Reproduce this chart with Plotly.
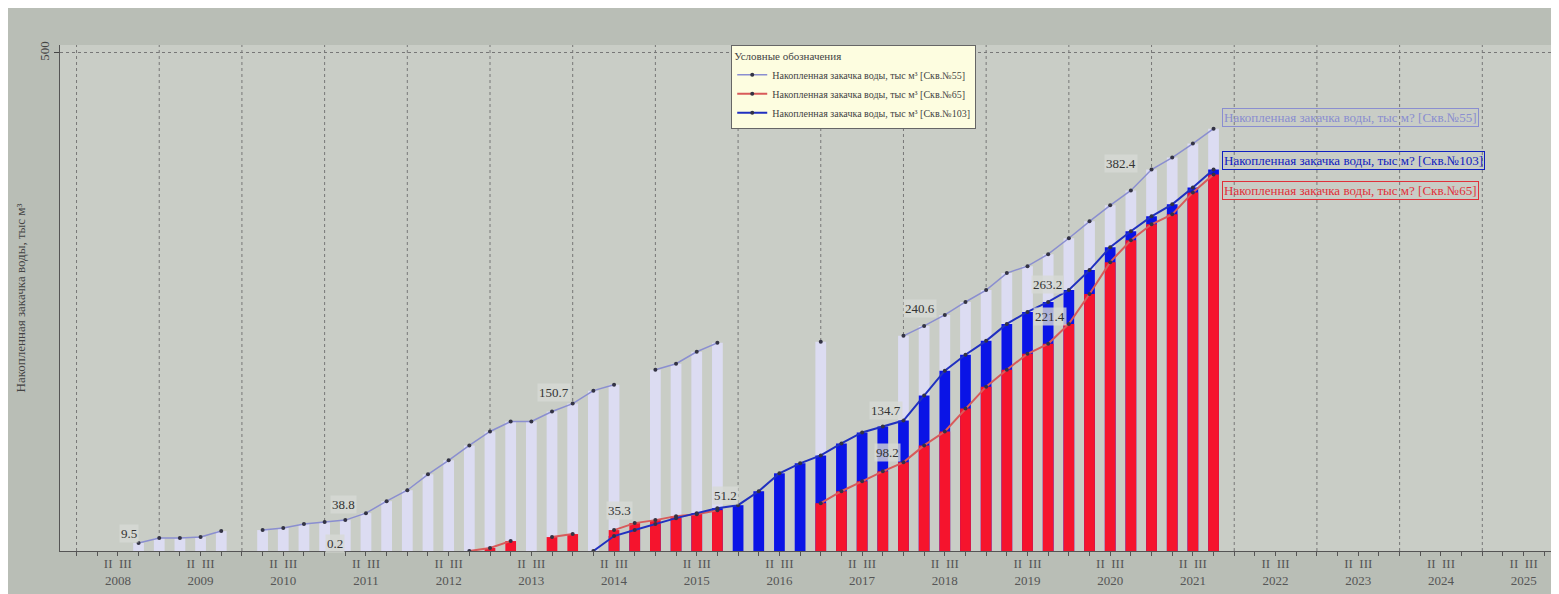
import plotly.graph_objects as go

# quarterly points, x = year + quarter/4, starting 2008 Q1
start_year = 2008
n_quarters = 56

# cumulative injection, well 55 (None = no data)
well55 = [None, None, None, 8, 13, 13, 14, 20, None, 21, 23, 27, 29, 31, 38, 50,
          61, 77, 91, 106, 120, 130, 130, 140, 148, 161, 167, None, 182, 188, 200, 209,
          None, None, None, None, 210, None, None, None, 216, 226, 237, 250, 262, 279, 286, 298,
          314, 331, 347, 362, 383, 395, 409, 424]
# well 103
well103 = [None] * 25 + [0, 15, 21, 27, 33, 38, 43,
           46, 60, 78, 88, 96, 108, 119, 125, 131, 156, 181, 197, 211, 228, 240, 250,
           262, 282, 305, 321, 336, 348, 365, 383]
# well 65
well65 = [None] * 19 + [0, 3, 10, None, 14, 17, None, 21, 28, 31, 35, 37, 41,
          None, None, None, None, 48, 60, 70, 80, 89, 106, 120, 143, 165, 182, 198, 208,
          228, 258, 290, 312, 328, 338, 360, 378]

x = [start_year + i / 4 for i in range(n_quarters)]
years = list(range(2008, 2026))

# point labels: (series, quarter index, text, xshift, yshift)
point_labels = [("55", 3, "9.5", -10, 10), ("55", 13, "38.8", -2, 16), ("55", 13, "0.2", -10, -23),
                ("55", 24, "150.7", -19, 11), ("65", 26, "35.3", 5, 20), ("65", 31, "51.2", 8, 15),
                ("103", 39, "134.7", 3, 16), ("65", 39, "98.2", 5, 19), ("55", 41, "240.6", -4, 17),
                ("103", 46, "263.2", 20, 27), ("103", 46, "221.4", 22, -5), ("55", 51, "382.4", -10, 27)]

series = {"55": well55, "65": well65, "103": well103}

c55_bar = "#dcdcf2"
c55_line = "#8a8ed0"
c103 = "#0a14e6"
c65 = "#f5142d"
name = "Накопленная закачка воды, тыс м³ [Скв.№%s]"

fig = go.Figure()
bw = 0.13
fig.add_bar(x=x, y=well55, width=bw, marker=dict(color=c55_bar, line_width=0), showlegend=False)
fig.add_bar(x=x, y=well103, width=bw, marker=dict(color=c103, line_width=0), showlegend=False)
fig.add_bar(x=x, y=well65, width=bw, marker=dict(color=c65, line_width=0), showlegend=False)

mk = dict(size=4, color="#333344")
fig.add_scatter(x=x, y=well55, mode="lines+markers", name=name % "55",
                line=dict(color=c55_line, width=1.5), marker=mk)
fig.add_scatter(x=x, y=well65, mode="lines+markers", name=name % "65",
                line=dict(color="#d85a5a", width=2), marker=mk)
fig.add_scatter(x=x, y=well103, mode="lines+markers", name=name % "103",
                line=dict(color="#2030c0", width=2), marker=mk)

for key, i, txt, dx, dy in point_labels:
    fig.add_annotation(x=x[i], y=series[key][i], text=txt, showarrow=False,
                       xshift=dx, yshift=dy, font=dict(size=13, color="#333333"),
                       bgcolor="rgba(215,218,212,0.8)", borderpad=1)

for yr in years:
    fig.add_shape(type="line", x0=yr, x1=yr, y0=0, y1=1, yref="paper",
                  line=dict(color="#777777", width=1, dash="dot"), layer="below")

right_labels = [("55", c55_line, 0.875), ("103", "#1020c0", 0.79), ("65", "#e0303a", 0.732)]
for key, col, yp in right_labels:
    fig.add_annotation(x=2021.85, y=yp, yref="paper", xanchor="left",
                       text=(name % key).replace("м³", "м?"), showarrow=False,
                       font=dict(size=13, color=col, family="Liberation Serif"),
                       bordercolor=col, borderwidth=1, borderpad=1)

fig.add_annotation(x=0.55, xref="paper", y=-0.085, yref="paper", yanchor="top", text="Время",
                   showarrow=False, font=dict(size=11, color="#444444"))

fig.update_layout(
    width=1559, height=594,
    margin=dict(l=52, r=2, t=37, b=51),
    paper_bgcolor="#b9beb6", plot_bgcolor="#c9cdc6",
    barmode="overlay",
    font=dict(family="Liberation Serif", size=12, color="#444444"),
    legend=dict(title=dict(text="Условные обозначения", font=dict(size=11)),
                x=0.446, y=1.0, xanchor="left", yanchor="top",
                bgcolor="#fdfde0", bordercolor="#666666", borderwidth=1,
                font=dict(size=10), tracegroupgap=0),
    xaxis=dict(range=[2007.8, 2026], tickvals=[y + 0.5 for y in years],
               ticktext=["II  III<br>%d" % y for y in years], ticks="",
               showgrid=False, zeroline=False, showline=True, linecolor="#555555",
               tickfont=dict(size=13, color="#555555"), automargin=False,
               minor=dict(tick0=2008, dtick=0.25, ticks="outside", ticklen=4,
                          tickcolor="#555555", showgrid=False)),
    yaxis=dict(range=[0, 508], tickvals=[500], ticktext=["500"], tickangle=-90,
               showgrid=True, gridcolor="#777777", griddash="dot", zeroline=False,
               showline=True, linecolor="#555555", ticks="outside", automargin=False,
               title=dict(text="Накопленная закачка воды, тыс м³", font=dict(size=13), standoff=8),
               tickfont=dict(size=13)),
)

fig.write_html("out.html")
